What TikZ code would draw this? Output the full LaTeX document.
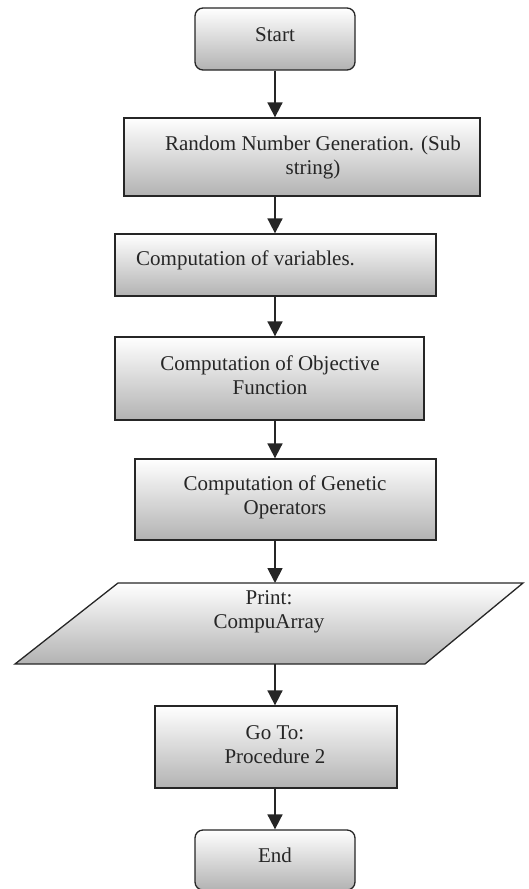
\documentclass[tikz,border=0pt]{standalone}
\usepackage{fontspec}
\setmainfont{Liberation Serif}
\usetikzlibrary{arrows.meta}
\begin{document}
\begin{tikzpicture}[x=1pt,y=-1pt,
  box/.style={draw=black!85, line width=1.3pt, top color=white, bottom color=black!30, inner sep=0pt},
  lbl/.style={font=\fontsize{21}{24}\selectfont, align=center, inner sep=0pt, text=black!85},
  flow/.style={draw=black!85, line width=1.8pt, -{Triangle[width=15pt,length=15pt]}}]
\useasboundingbox (0,0) rectangle (529,889);
\coordinate (col) at (275,0);
% boxes
\node[box, rounded corners=8pt, minimum width=160pt, minimum height=62pt] (start) at (275,39) {};
\node[box, minimum width=356pt, minimum height=78pt] (random) at (302,157) {};
\node[box, minimum width=321pt, minimum height=62pt] (var) at (275.5,265) {};
\node[box, minimum width=309pt, minimum height=83pt] (obj) at (269.5,378.5) {};
\node[box, minimum width=301pt, minimum height=81pt] (gen) at (285.5,499.5) {};
\shade[top color=white, bottom color=black!30] (118,583) -- (523,583) -- (425,664) -- (15,664) -- cycle;
\draw[draw=black!85, line width=1.3pt, line join=miter] (118,583) -- (523,583) -- (425,664) -- (15,664) -- cycle;
\coordinate (ptop) at (272,583);
\coordinate (pbot) at (272,664);
\node[box, minimum width=242pt, minimum height=82pt] (goto) at (276,747) {};
\node[box, rounded corners=8pt, minimum width=160pt, minimum height=60pt] (end) at (275,860) {};
% labels
\node[lbl] (tstart) at (275,35) {Start};
\node[lbl] (trandom) at (313,157) {Random Number Generation. (Sub\\string)};
\node[lbl, anchor=west] (tvar) at (136,260) {Computation of variables.};
\node[lbl] (tobj) at (270,375) {Computation of Objective\\Function};
\node[lbl] (tgen) at (285,497) {Computation of Genetic\\Operators};
\node[lbl] (tprint) at (269,612) {Print:\\CompuArray};
\node[lbl] (tgoto) at (275,745) {Go To:\\Procedure 2};
\node[lbl] (tend) at (275,855) {End};
% connectors
\draw[flow] (col |- start.south) -- (col |- random.north);
\draw[flow] (col |- random.south) -- (col |- var.north);
\draw[flow] (col |- var.south) -- (col |- obj.north);
\draw[flow] (col |- obj.south) -- (col |- gen.north);
\draw[flow] (col |- gen.south) -- (col |- ptop);
\draw[flow] (col |- pbot) -- (col |- goto.north);
\draw[flow] (col |- goto.south) -- (col |- end.north);
\end{tikzpicture}
\end{document}
